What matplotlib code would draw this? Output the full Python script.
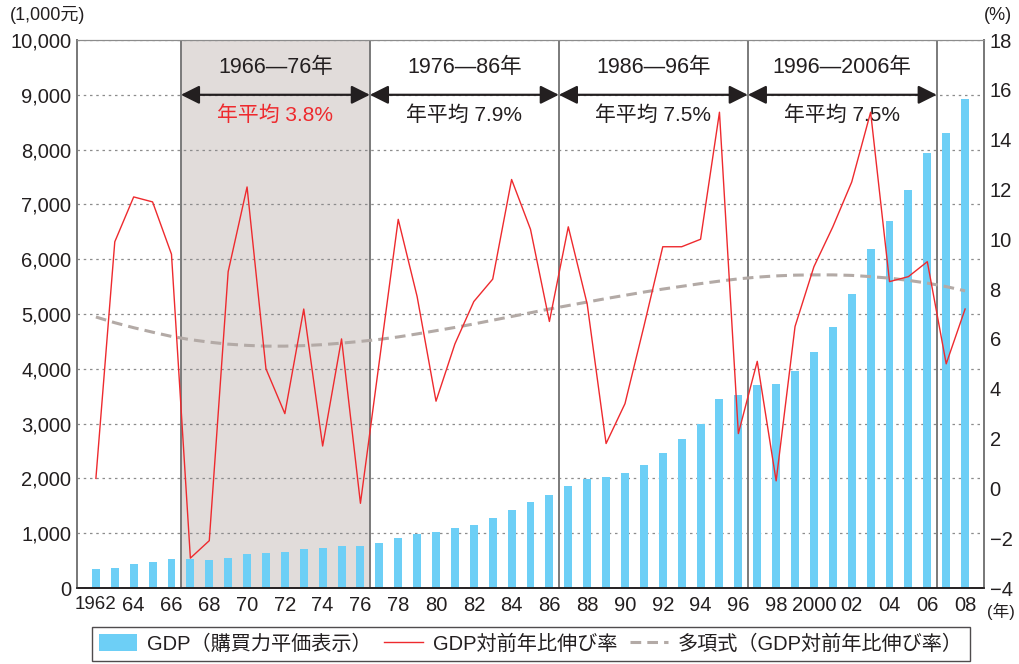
"""
China GDP (PPP) bars with year-on-year growth rate and its polynomial trend,
split into four ten-year periods with their average growth.
"""

import matplotlib

matplotlib.use("Agg")
import matplotlib.pyplot as plt
from matplotlib.lines import Line2D
from matplotlib.patches import Patch

plt.rcParams["font.family"] = ["Liberation Sans", "Noto Sans CJK JP", "DejaVu Sans"]

years = list(range(1962, 2009))

# GDP (PPP), unit: 1,000 yuan
gdp = [347, 365, 438, 474, 529, 529, 511, 547, 620, 639,
       657, 712, 730, 766, 766, 821, 912, 985, 1022, 1095,
       1150, 1277, 1423, 1569, 1697, 1861, 1989, 2026, 2099, 2245,
       2464, 2720, 2993, 3449, 3522, 3704, 3723, 3960, 4307, 4763,
       5365, 6186, 6697, 7263, 7938, 8303, 8923]

# year-on-year growth (%)
growth = [0.4, 9.9, 11.7, 11.5, 9.4, -2.8, -2.1, 8.7, 12.1, 4.8,
          3.0, 7.2, 1.7, 6.0, -0.6, 5.1, 10.8, 7.7, 3.5, 5.8,
          7.5, 8.4, 12.4, 10.4, 6.7, 10.5, 7.4, 1.8, 3.4, 6.5,
          9.7, 9.7, 10.0, 15.1, 2.2, 5.1, 0.3, 6.5, 8.9, 10.5,
          12.3, 15.1, 8.3, 8.5, 9.1, 5.0, 7.2]

# polynomial trend of the growth rate (%)
trend = [6.88, 6.65, 6.45, 6.27, 6.10, 5.97, 5.87, 5.79, 5.74, 5.71,
         5.71, 5.73, 5.77, 5.83, 5.90, 5.98, 6.08, 6.20, 6.33, 6.46,
         6.60, 6.75, 6.90, 7.05, 7.20, 7.34, 7.48, 7.62, 7.75, 7.88,
         8.00, 8.11, 8.22, 8.32, 8.41, 8.48, 8.53, 8.56, 8.57, 8.57,
         8.55, 8.50, 8.44, 8.35, 8.24, 8.10, 7.93]

# ten-year periods: (start, end, label, average text, colour)
periods = [
    (1966.5, 1976.5, "1966—76年", "年平均 3.8%", "#EE2A2E"),
    (1976.5, 1986.5, "1976—86年", "年平均 7.9%", "#231F20"),
    (1986.5, 1996.5, "1986—96年", "年平均 7.5%", "#231F20"),
    (1996.5, 2006.5, "1996—2006年", "年平均 7.5%", "#231F20"),
]

xtick_years = list(range(1962, 2009, 2))
xtick_labels = ["1962"] + [str(y)[2:] for y in xtick_years[1:]]
xtick_labels[xtick_years.index(2000)] = "2000"

BAR_COLOR = "#6DCFF6"
LINE_COLOR = "#EE2A2E"
TREND_COLOR = "#B3AAA6"
SHADE_COLOR = "#E1DCDA"
TEXT_COLOR = "#231F20"

fig = plt.figure(figsize=(10.19, 6.64), dpi=100)
ax = fig.add_axes([77 / 1019, 1 - 588 / 664, 907 / 1019, 548 / 664])
ax2 = ax.twinx()

ax.set_xlim(1961, 2009)
ax.set_ylim(0, 10000)
ax2.set_ylim(-4, 18)

# shaded period and separators
ax.axvspan(periods[0][0], periods[0][1], color=SHADE_COLOR, zorder=0, lw=0)
for x in [p[0] for p in periods] + [periods[-1][1]]:
    ax.axvline(x, color="#7A7A7A", lw=1.4, zorder=1)

ax.set_yticks(range(0, 10001, 1000))
ax.yaxis.grid(True, color="#8C8C8C", ls=(0, (2, 3)), lw=0.9, zorder=0.5)
ax.set_axisbelow(True)

ax.bar(years, gdp, width=0.42, color=BAR_COLOR, zorder=2)

ax2.plot(years, trend, color=TREND_COLOR, lw=2.2, ls=(0, (3.5, 2)), zorder=3)
ax2.plot(years, growth, color=LINE_COLOR, lw=1.0, zorder=4)

# period annotations
for start, end, label, avg, col in periods:
    mid = (start + end) / 2
    ax.annotate("", xy=(start, 9000), xytext=(end, 9000),
                arrowprops=dict(arrowstyle="<|-|>", color=TEXT_COLOR, lw=1.6,
                                mutation_scale=28, shrinkA=0, shrinkB=0),
                zorder=5)
    ax.text(mid, 9300, label, ha="center", va="bottom", fontsize=15.5, color=TEXT_COLOR)
    ax.text(mid, 8800, avg, ha="center", va="top", fontsize=15, color=col)

# ticks and spines
ax.set_xticks(xtick_years)
ax.set_xticklabels(xtick_labels)
ax.set_yticklabels([f"{v:,}" for v in range(0, 10001, 1000)])
ax2.set_yticks(range(-4, 19, 2))
ax2.set_yticklabels([f"−{abs(v)}" if v < 0 else str(v) for v in range(-4, 19, 2)])
for a in (ax, ax2):
    a.tick_params(length=0, labelsize=14.5, colors=TEXT_COLOR, pad=4)
ax.tick_params(axis="x", pad=6)
ax.get_xticklabels()[0].set_fontsize(13.5)
for a in (ax, ax2):
    for side in ("left", "right"):
        a.spines[side].set_color("#7A7A7A")
        a.spines[side].set_linewidth(1.4)
    a.spines["top"].set_color("#8C8C8C")
    a.spines["top"].set_linewidth(0.8)
    a.spines["bottom"].set_color(TEXT_COLOR)
    a.spines["bottom"].set_linewidth(1.2)

fig.text(10 / 1019, 1 - 15 / 664, "(1,000元)", ha="left", va="center", fontsize=13, color=TEXT_COLOR)
fig.text(1012 / 1019, 1 - 15 / 664, "(%)", ha="right", va="center", fontsize=13, color=TEXT_COLOR)
fig.text(1015 / 1019, 1 - 611 / 664, "(年)", ha="right", va="center", fontsize=12, color=TEXT_COLOR)

handles = [
    Patch(facecolor=BAR_COLOR, edgecolor="none"),
    Line2D([], [], color=LINE_COLOR, lw=1.0),
    Line2D([], [], color=TREND_COLOR, lw=2.2, ls=(0, (3.5, 2))),
]
labels = ["GDP（購買力平価表示）", "GDP対前年比伸び率", "多項式（GDP対前年比伸び率）"]
leg = fig.legend(handles, labels, loc="center", ncol=3, mode="expand",
                 bbox_to_anchor=(92 / 1019, 1 - 663 / 664, 878 / 1019, 38 / 664),
                 fontsize=14.5, frameon=True, fancybox=False, edgecolor=TEXT_COLOR,
                 handlelength=1.9, handleheight=0.9, borderaxespad=0, borderpad=0.35,
                 columnspacing=1.0, handletextpad=0.5)
leg.get_frame().set_linewidth(1.0)
for t in leg.get_texts():
    t.set_color(TEXT_COLOR)

fig.savefig("out.png", dpi=100)
